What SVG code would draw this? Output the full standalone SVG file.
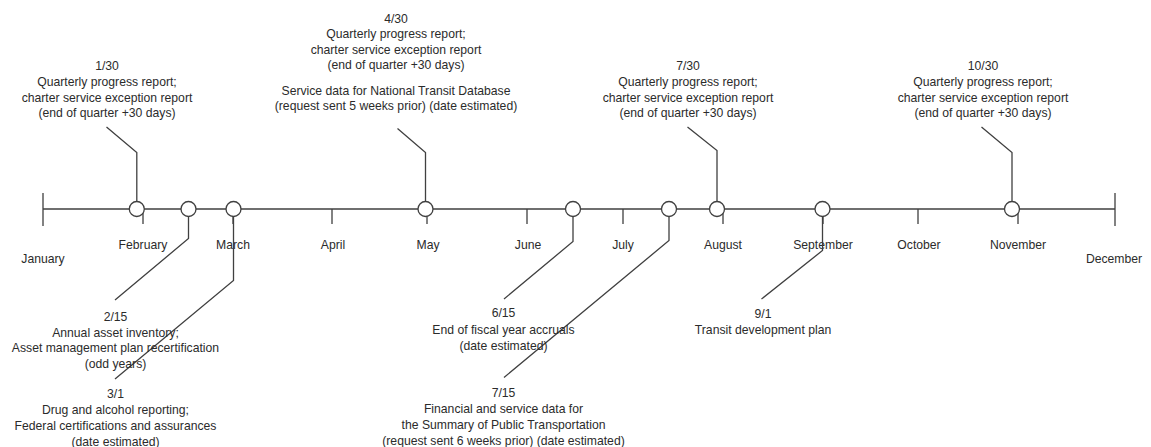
<svg xmlns="http://www.w3.org/2000/svg" width="1151" height="447" viewBox="0 0 1151 447">
<style>
text{font-family:"Liberation Sans",Arial,sans-serif;font-size:12.2px;fill:#2b2b2b;text-anchor:middle}
.ln{fill:none;stroke:#404040;stroke-width:1.3}
.ev{fill:#fff;stroke:#404040;stroke-width:1.3}
</style>
<rect width="1151" height="447" fill="#fff"/>
<g id="axis" class="ln">
<path d="M43,209H1115M43,193V226M1115,193V226"/>
<path d="M143,209V224M233,209V224M332,209V224M427,209V224M527,209V224M623,209V224M723,209V224M823,209V224M918,209V224M1018,209V224"/>
</g>
<g id="months">
<text x="43" y="263">January</text>
<text x="143" y="249">February</text>
<text x="233" y="249">March</text>
<text x="333" y="249">April</text>
<text x="428" y="249">May</text>
<text x="528" y="249">June</text>
<text x="623" y="249">July</text>
<text x="723" y="249">August</text>
<text x="823" y="249">September</text>
<text x="919" y="249">October</text>
<text x="1018" y="249">November</text>
<text x="1114" y="263">December</text>
</g>
<g id="connectors" class="ln">
<path d="M106.5,127L136.8,152.5V201.5"/>
<path d="M397.5,128.5L425.5,152.5V201.5"/>
<path d="M687.5,127L717,150.5V201.5"/>
<path d="M981.5,127L1012,152.5V201.5"/>
<path d="M188.5,216.5V238.5L115,300"/>
<path d="M233.5,216.5V280.5L115,379"/>
<path d="M573,216.5V241.5L504,299"/>
<path d="M669,216.5V240.5L504,377.5"/>
<path d="M822.5,216.5V250.5L761.5,299"/>
</g>
<g id="e0130"><circle class="ev" cx="136.8" cy="209" r="7.5"/>
<text x="107" y="69.5">1/30</text><text x="107" y="86">Quarterly progress report;</text><text x="107" y="101.5">charter service exception report</text><text x="107" y="117">(end of quarter +30 days)</text></g>
<g id="e0215"><circle class="ev" cx="188.5" cy="209" r="7.5"/>
<text x="115.5" y="320.5">2/15</text><text x="115.5" y="336.5">Annual asset inventory;</text><text x="115.5" y="352">Asset management plan recertification</text><text x="115.5" y="367.5">(odd years)</text></g>
<g id="e0301"><circle class="ev" cx="233.5" cy="209" r="7.5"/>
<text x="115.5" y="398">3/1</text><text x="115.5" y="414">Drug and alcohol reporting;</text><text x="115.5" y="430">Federal certifications and assurances</text><text x="115.5" y="445.5">(date estimated)</text></g>
<g id="e0430"><circle class="ev" cx="425.5" cy="209" r="7.5"/>
<text x="396" y="22.5">4/30</text><text x="396" y="38">Quarterly progress report;</text><text x="396" y="53.5">charter service exception report</text><text x="396" y="69">(end of quarter +30 days)</text><text x="396" y="94.5">Service data for National Transit Database</text><text x="396" y="110">(request sent 5 weeks prior) (date estimated)</text></g>
<g id="e0615"><circle class="ev" cx="573" cy="209" r="7.5"/>
<text x="503.5" y="317">6/15</text><text x="503.5" y="333.5">End of fiscal year accruals</text><text x="503.5" y="349.5">(date estimated)</text></g>
<g id="e0715"><circle class="ev" cx="669" cy="209" r="7.5"/>
<text x="503.5" y="397">7/15</text><text x="503.5" y="413">Financial and service data for</text><text x="503.5" y="429">the Summary of Public Transportation</text><text x="503.5" y="444.5">(request sent 6 weeks prior) (date estimated)</text></g>
<g id="e0730"><circle class="ev" cx="717" cy="209" r="7.5"/>
<text x="688" y="69.5">7/30</text><text x="688" y="86">Quarterly progress report;</text><text x="688" y="101.5">charter service exception report</text><text x="688" y="117">(end of quarter +30 days)</text></g>
<g id="e0901"><circle class="ev" cx="822.5" cy="209" r="7.5"/>
<text x="763" y="318">9/1</text><text x="763" y="334">Transit development plan</text></g>
<g id="e1030"><circle class="ev" cx="1012" cy="209" r="7.5"/>
<text x="983" y="69.5">10/30</text><text x="983" y="86">Quarterly progress report;</text><text x="983" y="101.5">charter service exception report</text><text x="983" y="117">(end of quarter +30 days)</text></g>
</svg>
